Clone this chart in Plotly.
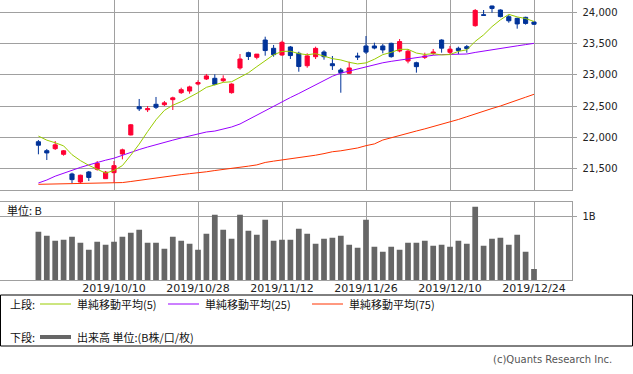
import plotly.graph_objects as go

W, H = 633, 374

dates = [
    "2019/09/27", "2019/09/30", "2019/10/01", "2019/10/02", "2019/10/03", "2019/10/04",
    "2019/10/07", "2019/10/08", "2019/10/09", "2019/10/10", "2019/10/11", "2019/10/15",
    "2019/10/16", "2019/10/17", "2019/10/18", "2019/10/21", "2019/10/23", "2019/10/24",
    "2019/10/25", "2019/10/28", "2019/10/29", "2019/10/30", "2019/10/31", "2019/11/01",
    "2019/11/05", "2019/11/06", "2019/11/07", "2019/11/08", "2019/11/11", "2019/11/12",
    "2019/11/13", "2019/11/14", "2019/11/15", "2019/11/18", "2019/11/19", "2019/11/20",
    "2019/11/21", "2019/11/22", "2019/11/25", "2019/11/26", "2019/11/27", "2019/11/28",
    "2019/11/29", "2019/12/02", "2019/12/03", "2019/12/04", "2019/12/05", "2019/12/06",
    "2019/12/09", "2019/12/10", "2019/12/11", "2019/12/12", "2019/12/13", "2019/12/16",
    "2019/12/17", "2019/12/18", "2019/12/19", "2019/12/20", "2019/12/23", "2019/12/24",
]

open_ = [21935, 21792, 21824, 21734, 21420, 21292, 21452, 21495, 21345, 21441,
         21739, 22043, 22494, 22445, 22532, 22526, 22606, 22718, 22744, 22856,
         22936, 22947, 22909, 22718, 23112, 23356, 23282, 23558, 23426, 23319,
         23447, 23346, 23148, 23292, 23367, 23180, 23080, 23027, 23303, 23463,
         23463, 23463, 23505, 23383, 23223, 23196, 23282, 23346, 23558, 23362,
         23426, 23452, 23787, 23962, 24101, 24037, 23930, 23904, 23920, 23846]
high = [21962, 21819, 21946, 21803, 21441, 21409, 21468, 21627, 21468, 21627,
        21824, 22218, 22617, 22505, 22649, 22585, 22654, 22797, 22829, 22915,
        23016, 23011, 22995, 22867, 23335, 23372, 23335, 23611, 23479, 23547,
        23463, 23372, 23346, 23452, 23394, 23303, 23112, 23212, 23356, 23622,
        23516, 23494, 23516, 23574, 23410, 23212, 23356, 23415, 23569, 23463,
        23452, 23479, 24053, 24037, 24106, 24048, 23957, 23915, 23930, 23851]
low = [21734, 21643, 21803, 21712, 21271, 21271, 21308, 21473, 21340, 21281,
       21654, 22037, 22425, 22409, 22457, 22505, 22441, 22697, 22701, 22835,
       22920, 22835, 22888, 22702, 23085, 23239, 23250, 23308, 23292, 23308,
       23255, 23052, 23116, 23255, 23244, 23080, 22717, 23016, 23239, 23335,
       23410, 23346, 23276, 23362, 23186, 23037, 23255, 23319, 23356, 23335,
       23335, 23356, 23771, 23950, 23994, 23920, 23834, 23739, 23803, 23798]
close = [21879, 21756, 21885, 21790, 21330, 21400, 21365, 21590, 21450, 21553,
         21805, 22205, 22460, 22462, 22485, 22555, 22635, 22765, 22810, 22880,
         22985, 22851, 22938, 22855, 23255, 23295, 23333, 23390, 23325, 23521,
         23310, 23135, 23305, 23425, 23292, 23148, 23037, 23112, 23288, 23365,
         23430, 23400, 23293, 23533, 23380, 23133, 23302, 23365, 23428, 23412,
         23390, 23422, 24030, 23952, 24062, 23932, 23865, 23815, 23823, 23810]

ma5 = [22025, 21960, 21918, 21869, 21728, 21634, 21558, 21499, 21434, 21476,
       21554, 21720, 21897, 22097, 22285, 22435, 22518, 22574, 22644, 22718,
       22803, 22847, 22882, 22892, 22969, 23035, 23133, 23226, 23322, 23376,
       23379, 23341, 23323, 23340, 23295, 23261, 23240, 23202, 23177, 23193,
       23251, 23325, 23361, 23409, 23410, 23350, 23328, 23340, 23320, 23326,
       23377, 23402, 23536, 23640, 23772, 23880, 23968, 23927, 23901, 23854]
ma25 = [21276, 21324, 21385, 21435, 21480, 21525, 21565, 21606, 21640, 21672,
        21720, 21765, 21810, 21850, 21890, 21925, 21960, 21995, 22030, 22062,
        22090, 22105, 22140, 22170, 22218, 22290, 22350, 22425, 22500, 22574,
        22640, 22705, 22775, 22850, 22915, 22980, 23030, 23062, 23098, 23135,
        23165, 23195, 23218, 23238, 23255, 23275, 23300, 23315, 23325, 23330,
        23332, 23335, 23360, 23383, 23400, 23420, 23440, 23465, 23485, 23505]
ma75 = [21255, 21258, 21262, 21270, 21273, 21275, 21276, 21277, 21278, 21280,
        21283, 21300, 21320, 21340, 21360, 21378, 21395, 21410, 21425, 21436,
        21455, 21475, 21490, 21508, 21525, 21545, 21565, 21604, 21625, 21643,
        21660, 21678, 21700, 21720, 21745, 21775, 21790, 21813, 21835, 21872,
        21900, 21962, 22000, 22040, 22070, 22106, 22140, 22175, 22210, 22245,
        22290, 22334, 22380, 22425, 22465, 22505, 22555, 22600, 22645, 22692]

volume = [0.763, 0.700, 0.621, 0.637, 0.684, 0.589, 0.479, 0.605, 0.558, 0.605,
          0.684, 0.747, 0.795, 0.589, 0.589, 0.495, 0.684, 0.621, 0.574, 0.479,
          0.732, 1.032, 0.795, 0.653, 1.032, 0.779, 0.716, 0.953, 0.621, 0.637,
          0.637, 0.811, 0.732, 0.574, 0.653, 0.668, 0.700, 0.558, 0.511, 0.953,
          0.526, 0.447, 0.526, 0.479, 0.589, 0.589, 0.621, 0.542, 0.558, 0.526,
          0.621, 0.574, 1.158, 0.542, 0.653, 0.668, 0.558, 0.716, 0.447, 0.174]

price_ticks = [21500, 22000, 22500, 23000, 23500, 24000]
date_ticks = ["2019/10/10", "2019/10/28", "2019/11/12", "2019/11/26", "2019/12/10", "2019/12/24"]

UP = "#ff0033"
DOWN = "#003399"
C5, C25, C75 = "#99cc00", "#9900ff", "#ff3300"
GRID = "#a0a0a0"
NUMFONT = "DejaVu Sans"
JPFONT = "Noto Sans CJK JP"


def px(x):
    return x / W


def py(y):
    return 1 - y / H


fig = go.Figure()
fig.add_trace(go.Candlestick(
    x=dates, open=open_, high=high, low=low, close=close,
    increasing=dict(line=dict(color=UP, width=1), fillcolor=UP),
    decreasing=dict(line=dict(color=DOWN, width=1), fillcolor=DOWN),
    whiskerwidth=0, showlegend=False, xaxis="x", yaxis="y",
))
for vals, col in [(ma75, C75), (ma25, C25), (ma5, C5)]:
    fig.add_trace(go.Scatter(x=dates, y=vals, mode="lines",
                             line=dict(color=col, width=1), showlegend=False,
                             xaxis="x", yaxis="y"))
fig.add_trace(go.Bar(x=dates, y=volume, marker=dict(color="#666666", line=dict(width=0)),
                     showlegend=False, xaxis="x2", yaxis="y2"))

xr = [-38.4 / 8.4, (571.5 - 38.4) / 8.4]
xdom = [0, px(571.5)]

fig.update_layout(
    width=W, height=H, margin=dict(l=0, r=0, t=0, b=0),
    paper_bgcolor="white", plot_bgcolor="white",
    bargap=0.32, boxgap=0.3,
    xaxis=dict(domain=xdom, type="category", range=xr, anchor="y",
               tickmode="array", tickvals=date_ticks, showticklabels=False,
               showgrid=True, gridcolor=GRID, gridwidth=1, ticks="",
               showline=True, linecolor=GRID, linewidth=1, mirror=True,
               rangeslider=dict(visible=False), zeroline=False, fixedrange=True),
    yaxis=dict(domain=[py(190), py(0)], range=[21164.4, 24196.8], side="right",
               anchor="x", tickmode="array", tickvals=price_ticks, tickformat=",d",
               showgrid=True, gridcolor=GRID, gridwidth=1,
               ticks="outside", ticklen=4, tickcolor=GRID,
               showline=True, linecolor=GRID, linewidth=1,
               ticklabelstandoff=4,
               tickfont=dict(family=NUMFONT, size=10, color="#222"), zeroline=False),
    xaxis2=dict(domain=xdom, type="category", range=xr, anchor="y2",
                tickmode="array", tickvals=date_ticks, ticktext=date_ticks,
                showgrid=True, gridcolor=GRID, gridwidth=1, ticks="",
                showline=True, linecolor=GRID, linewidth=1, mirror=True,
                ticklabelstandoff=-2,
                tickfont=dict(family=NUMFONT, size=11, color="#222"), zeroline=False),
    yaxis2=dict(domain=[py(280), py(201.7)], range=[0, 1.237], side="right",
                anchor="x2", tickmode="array", tickvals=[1], ticktext=["1B"],
                showgrid=True, gridcolor=GRID, gridwidth=1,
                ticks="outside", ticklen=4, tickcolor=GRID,
                showline=True, linecolor=GRID, linewidth=1,
                ticklabelstandoff=4,
                tickfont=dict(family=NUMFONT, size=10, color="#222"), zeroline=False),
)

shapes = []
annotations = []
# legend box
shapes.append(dict(type="rect", xref="paper", yref="paper",
                   x0=px(0.5), x1=px(632.5), y0=py(346), y1=py(295),
                   line=dict(color="black", width=1), fillcolor="rgba(0,0,0,0)"))
for (x0, col, w, y) in [(40, C5, 1, 304), (168, C25, 1, 304), (312, C75, 1, 304),
                        (40, "#666666", 4, 337)]:
    shapes.append(dict(type="line", xref="paper", yref="paper",
                       x0=px(x0), x1=px(x0 + 31), y0=py(y), y1=py(y),
                       line=dict(color=col, width=w)))


def txt(x, y, s, anchor="left", size=11, color="#111", family=JPFONT):
    annotations.append(dict(x=px(x), y=py(y), xref="paper", yref="paper", text=s,
                            showarrow=False, xanchor=anchor, yanchor="middle",
                            font=dict(family=family, size=size, color=color)))


txt(8, 304, "上段:")
txt(75, 304, "単純移動平均(5)")
txt(203, 304, "単純移動平均(25)")
txt(347, 304, "単純移動平均(75)")
txt(8, 337, "下段:")
txt(75, 337, "出来高 単位:(B株/口/枚)")
txt(5, 210, "単位: B")
txt(614, 359, "(c)Quants Research Inc.", anchor="right", color="#555", family="DejaVu Sans", size=10)

fig.update_layout(shapes=shapes, annotations=annotations)
fig.write_html("out.html", config={"displayModeBar": False, "staticPlot": True},
               post_script="document.body.style.margin='0px';document.body.style.padding='0px';")
